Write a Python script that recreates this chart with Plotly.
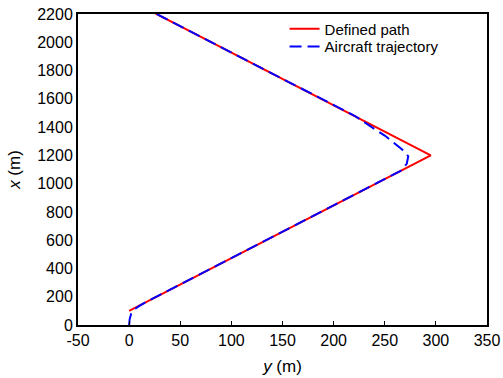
import plotly.graph_objects as go

# Defined path (lateral y, longitudinal x), in metres
path_y = [0, 295, 0]
path_x = [100, 1200, 2300]

# Aircraft trajectory
traj_y = [0, 0.5, 2, 5, 10, 17, 80.4, 160.9, 241.4, 265.5, 271.5, 273, 267, 258.5, 250, 241, 231.5, 220.5, 134.2, 27]
traj_x = [0, 40, 80, 110, 135, 165, 400, 700, 1000, 1090, 1140, 1194, 1241, 1288, 1340, 1382, 1430, 1480, 1800, 2200]

x_ticks = [-50, 0, 50, 100, 150, 200, 250, 300, 350]
y_ticks = [0, 200, 400, 600, 800, 1000, 1200, 1400, 1600, 1800, 2000, 2200]

FONT = "Liberation Sans, Arial"

fig = go.Figure()
fig.add_trace(go.Scatter(x=path_y, y=path_x, mode="lines", name="Defined path",
                         line=dict(color="#ff0000", width=2), legend="legend"))
fig.add_trace(go.Scatter(x=traj_y, y=traj_x, mode="lines", name="Aircraft trajectory",
                         line=dict(color="#0000ff", width=2, dash="12px,6px"), legend="legend2"))

axis_common = dict(showgrid=False, zeroline=False, showline=True, linecolor="black",
                   linewidth=2, mirror=True, ticklen=4, tickcolor="black", tickwidth=1,
                   automargin=False,
                   tickfont=dict(family=FONT, size=16, color="black"))

fig.update_xaxes(range=[-50, 350], tickvals=x_ticks, ticktext=[str(v) for v in x_ticks],
                 ticks="inside",
                 title=dict(text="<i>y</i> (m)", font=dict(family=FONT, size=17, color="black"), standoff=12),
                 **axis_common)
fig.update_yaxes(range=[0, 2200], tickvals=y_ticks, ticktext=[str(v) for v in y_ticks],
                 ticks="",
                 title=dict(text="<i>x</i> (m)", font=dict(family=FONT, size=17, color="black"), standoff=12),
                 **axis_common)

leg_common = dict(xanchor="left", yanchor="middle", bgcolor="rgba(0,0,0,0)", borderwidth=0,
                  font=dict(family=FONT, size=15, color="black"), itemwidth=30)

fig.update_layout(
    width=503, height=378,
    margin=dict(l=78, r=16, t=12, b=53),
    plot_bgcolor="white", paper_bgcolor="white",
    showlegend=True,
    legend=dict(x=0.505, y=0.952, **leg_common),
    legend2=dict(x=0.505, y=0.8946, **leg_common),
)

fig.write_html("out.html", config={"displayModeBar": False},
               post_script="document.body.style.margin='0';document.body.style.overflow='hidden';")
